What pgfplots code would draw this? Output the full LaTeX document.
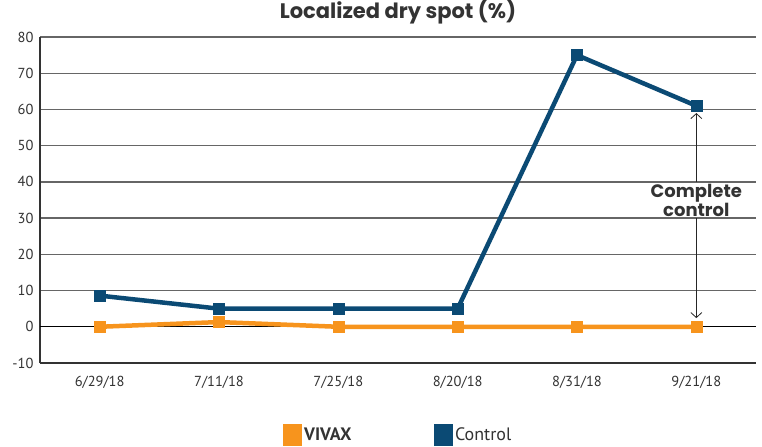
\documentclass[border=0pt]{standalone}
\usepackage{pgfplots}
\pgfplotsset{compat=1.18}
\usetikzlibrary{arrows.meta}
\usepackage{fontspec}
\setmainfont{PT Sans}
\newfontfamily\titlefont{Poppins}
\definecolor{ctrl}{HTML}{0B4A74}
\definecolor{vivax}{HTML}{F7941D}
\definecolor{txt}{HTML}{333333}
\begin{document}
\begin{tikzpicture}
\useasboundingbox (-40bp,-84bp) rectangle (722bp,363bp);
\begin{axis}[
  scale only axis, width=716bp, height=326bp,
  at={(0,0)}, anchor=south west,
  xmin=-0.5, xmax=5.5, ymin=-10, ymax=80,
  xtick={0,...,5},
  xticklabels={6/29/18,7/11/18,7/25/18,8/20/18,8/31/18,9/21/18},
  ytick={-10,10,20,30,40,50,60,70,80},
  extra y ticks={0},
  extra y tick style={major grid style={black, line width=1.4bp}},
  ymajorgrids,
  major grid style={color=black!60, line width=1.4bp},
  axis x line*=bottom, axis y line*=left,
  axis line style={black!80, line width=1.4bp, -},
  tick style={draw=none},
  /pgf/number format/assume math mode=true,
  tick label style={font=\fontsize{14.5bp}{16bp}\selectfont, text=txt},
  yticklabel style={xshift=-3bp},
  xticklabel style={yshift=-10bp},
  title={\titlefont\bfseries Localized dry spot (\%)},
  title style={font=\fontsize{21bp}{22bp}\selectfont, text=txt, at={(0.5,1)}, anchor=center, yshift=19bp},
  legend columns=2,
  legend style={at={(0.5,-0.221)}, anchor=center, draw=none, fill=none,
    font=\fontsize{18bp}{20bp}\selectfont, text=txt,
    /tikz/every even column/.append style={column sep=80bp}},
  clip=false,
]
\addplot[color=vivax, line width=4.5bp, mark=square*, mark size=5.5bp,
  mark options={solid, line width=0.3bp},
  legend image code/.code={\fill[vivax] (0bp,-9bp) rectangle (15bp,9bp);}]
  coordinates {(0,0) (1,1.3) (2,0) (3,0) (4,0) (5,0)};
\addlegendentry{\textbf{VIVAX}}
\addplot[color=ctrl, line width=4.5bp, mark=square*, mark size=5.5bp,
  mark options={solid, line width=0.3bp},
  legend image code/.code={\fill[ctrl] (0bp,-9bp) rectangle (15bp,9bp);}]
  coordinates {(0,8.6) (1,5) (2,5) (3,5) (4,75) (5,61)};
\addlegendentry{Control}
\draw[-{Straight Barb[length=5bp, width=11bp]}, line width=0.8bp, black!85] (axis cs:5,40) -- (axis cs:5,59);
\draw[-{Straight Barb[length=5bp, width=11bp]}, line width=0.8bp, black!85] (axis cs:5,30) -- (axis cs:5,2.4);
\node[font=\titlefont\bfseries\fontsize{18bp}{18bp}\selectfont, text=txt, align=center] at (axis cs:5,35) {Complete\\control};
\end{axis}
\end{tikzpicture}
\end{document}
